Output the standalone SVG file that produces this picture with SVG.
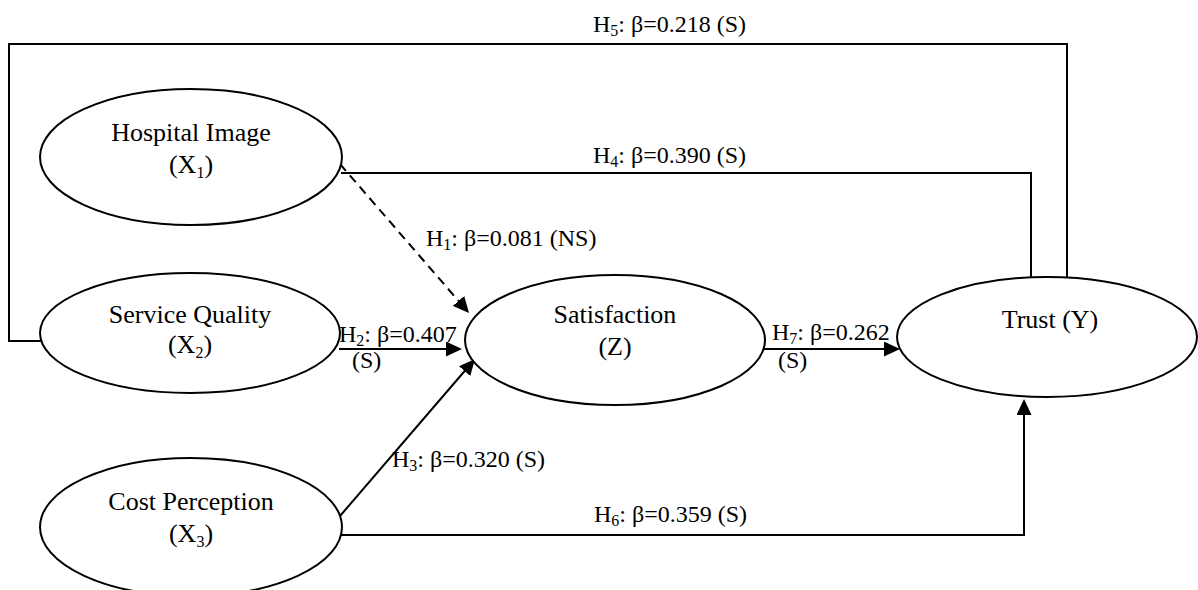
<svg xmlns="http://www.w3.org/2000/svg" width="1198" height="590" viewBox="0 0 1198 590">
<style>
.ln{fill:none;stroke:#000;stroke-width:2}
.dash{stroke-dasharray:9,6}
.nd{fill:#fff;stroke:#000;stroke-width:2}
.nt{font-family:"Liberation Serif","Times New Roman",serif;font-size:26px;fill:#000;text-anchor:middle}
.lb{font-family:"Liberation Serif","Times New Roman",serif;font-size:24px;fill:#000}
.sub{font-size:16px}
</style>
<defs>
<marker id="ah" markerUnits="userSpaceOnUse" markerWidth="16" markerHeight="15" refX="14" refY="7.5" orient="auto">
<path d="M0,0 L16,7.5 L0,15 z" fill="#000"/>
</marker>
</defs>
<rect width="1198" height="590" fill="#fff"/>
<g id="connectors">
<polyline class="ln" points="41,341 9,341 9,44 1067,44 1067,279"/>
<polyline class="ln" points="341,173 1031,173 1031,279"/>
<line class="ln dash" x1="340" y1="164" x2="467.7" y2="311.5" marker-end="url(#ah)"/>
<line class="ln" x1="339" y1="349" x2="460" y2="349" marker-end="url(#ah)"/>
<line class="ln" x1="340" y1="516" x2="473.7" y2="360.5" marker-end="url(#ah)"/>
<polyline class="ln" points="341,535 1024,535 1024,401" marker-end="url(#ah)"/>
<line class="ln" x1="764" y1="349" x2="898" y2="349" marker-end="url(#ah)"/>
</g>
<g id="hospital-image">
<ellipse class="nd" cx="191" cy="157" rx="151" ry="68"/>
<text class="nt" x="191" y="141">Hospital Image</text>
<text class="nt" x="191" y="173">(X<tspan class="sub" dy="5">1</tspan><tspan dy="-5">)</tspan></text>
</g>
<g id="service-quality">
<ellipse class="nd" cx="190" cy="333" rx="150" ry="60"/>
<text class="nt" x="190" y="323">Service Quality</text>
<text class="nt" x="190" y="353">(X<tspan class="sub" dy="5">2</tspan><tspan dy="-5">)</tspan></text>
</g>
<g id="cost-perception">
<ellipse class="nd" cx="191" cy="527" rx="151" ry="69"/>
<text class="nt" x="191" y="510">Cost Perception</text>
<text class="nt" x="191" y="542">(X<tspan class="sub" dy="5">3</tspan><tspan dy="-5">)</tspan></text>
</g>
<g id="satisfaction">
<ellipse class="nd" cx="615" cy="340" rx="150" ry="65"/>
<text class="nt" x="615" y="323">Satisfaction</text>
<text class="nt" x="615" y="355">(Z)</text>
</g>
<g id="trust">
<ellipse class="nd" cx="1047" cy="337" rx="150" ry="60"/>
<text class="nt" x="1050" y="328">Trust (Y)</text>
</g>
<g id="labels">
<text class="lb" x="593" y="32">H<tspan class="sub" dy="4">5</tspan><tspan dy="-4">: β=0.218 (S)</tspan></text>
<text class="lb" x="593" y="163">H<tspan class="sub" dy="4">4</tspan><tspan dy="-4">: β=0.390 (S)</tspan></text>
<text class="lb" x="426" y="246">H<tspan class="sub" dy="4">1</tspan><tspan dy="-4">: β=0.081 (NS)</tspan></text>
<text class="lb" x="339" y="342">H<tspan class="sub" dy="4">2</tspan><tspan dy="-4">: β=0.407</tspan></text>
<text class="lb" x="352" y="368">(S)</text>
<text class="lb" x="392" y="467">H<tspan class="sub" dy="4">3</tspan><tspan dy="-4">: β=0.320 (S)</tspan></text>
<text class="lb" x="594" y="522">H<tspan class="sub" dy="4">6</tspan><tspan dy="-4">: β=0.359 (S)</tspan></text>
<text class="lb" x="772" y="340">H<tspan class="sub" dy="4">7</tspan><tspan dy="-4">: β=0.262</tspan></text>
<text class="lb" x="778" y="368">(S)</text>
</g>
</svg>
